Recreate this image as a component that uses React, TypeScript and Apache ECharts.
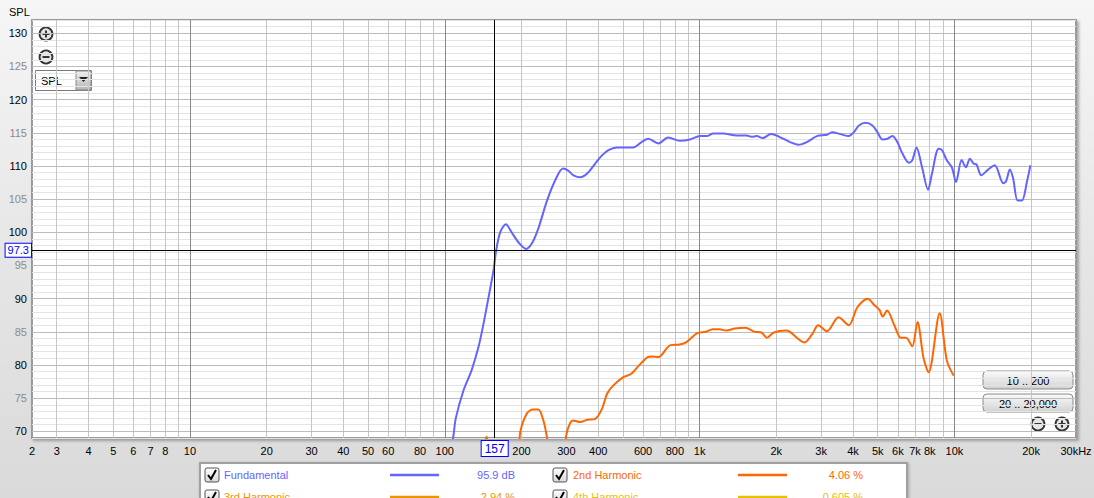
import React, { useEffect, useRef } from "react";
import * as echarts from "echarts";

// ---- data ----
const fundFreq = [104, 108, 110.5, 118.5, 127.4, 135.6, 141.9, 148.5, 155.4, 159, 165, 173.7, 183, 194.5, 208.5, 219.6, 233, 251, 271, 291, 305, 320, 340, 362, 390, 414, 439, 473, 549, 592, 629, 689, 753, 837, 917, 1004, 1066, 1131, 1238, 1396, 1530, 1600, 1677, 1770, 1904, 2134, 2264, 2442, 2636, 2886, 3161, 3310, 3570, 3850, 4030, 4220, 4485, 4765, 4985, 5220, 5460, 5710, 5970, 6245, 6630, 6830, 7100, 7465, 7880, 8165, 8670, 8930, 9335, 9770, 10150, 10670, 11090, 11500, 11900, 12200, 12750, 13550, 14400, 15540, 15950, 16500, 17000, 17700, 18400, 19300, 19860];
const fundSpl = [66, 69.2, 72, 76.2, 79.2, 82.7, 86.2, 90.2, 94.3, 97.2, 100.0, 101.2, 100.0, 98.5, 97.5, 98.3, 100.6, 104.6, 107.8, 109.6, 109.3, 108.6, 108.3, 108.85, 110.4, 111.6, 112.4, 112.8, 112.8, 113.6, 114.1, 113.4, 114.3, 113.8, 114.0, 114.5, 114.5, 114.9, 114.9, 114.6, 114.6, 114.4, 114.5, 114.2, 114.8, 114.1, 113.6, 113.2, 113.6, 114.5, 114.7, 115.1, 114.8, 114.5, 115.1, 116.1, 116.5, 116.1, 115.1, 114.0, 114.1, 114.5, 113.6, 111.9, 110.5, 110.85, 112.8, 109.8, 106.4, 108.85, 112.6, 112.4, 110.85, 109.8, 107.6, 110.9, 109.8, 111.1, 110.35, 110.25, 108.6, 109.45, 110.1, 107.4, 107.7, 109.45, 108.1, 104.8, 104.8, 107.8, 110.1];

const h2Freq = [140, 146, 152, 192, 198, 210, 222, 233, 244, 252, 258, 292, 300, 310, 319, 340, 362, 390, 414, 434, 458, 504, 536, 579, 625, 650, 689, 768, 837, 891, 979, 1058, 1126, 1196, 1272, 1375, 1510, 1650, 1750, 1835, 1955, 2180, 2264, 2410, 2580, 2770, 2920, 3160, 3510, 3850, 4160, 4570, 4860, 5080, 5230, 5440, 5810, 6170, 6460, 6830, 7160, 7570, 7920, 8750, 9335, 9920];
const h2Spl = [66, 69.2, 66, 66, 70, 72.7, 73.3, 73.3, 71.6, 69, 66, 66, 69.5, 71.2, 71.65, 71.4, 71.75, 71.9, 73.4, 75.7, 76.9, 78.2, 78.6, 79.95, 81.2, 81.3, 81.2, 83.0, 83.1, 83.5, 84.8, 85.0, 85.4, 85.4, 85.2, 85.5, 85.6, 85.0, 84.9, 84.1, 84.9, 85.2, 85.0, 84.1, 83.4, 84.7, 86.0, 85.1, 87.2, 86.0, 88.7, 90.0, 89.0, 88.3, 87.3, 88.2, 86.0, 84.1, 84.1, 82.8, 86.5, 81.0, 78.9, 87.8, 80.7, 78.4];

const yTickValues = [70, 75, 80, 85, 90, 95, 100, 105, 110, 115, 120, 125, 130];
const xTickValues = [2.4, 3, 4, 5, 6, 7, 8, 10, 20, 30, 40, 50, 60, 80, 100, 200, 300, 400, 600, 800, 1000, 2000, 3000, 4000, 5000, 6000, 7000, 8000, 10000, 20000, 30000];
const gridFreqs = [3, 4, 5, 6, 7, 8, 9, 10, 20, 30, 40, 50, 60, 70, 80, 90, 100, 200, 300, 400, 500, 600, 700, 800, 900, 1000, 2000, 3000, 4000, 5000, 6000, 7000, 8000, 9000, 10000, 20000];
const cursorFreq = 157;
const cursorSpl = 97.3;

const legendNames = ["Fundamental", "2nd Harmonic", "3rd Harmonic", "4th Harmonic"];
const legendValues = ["95.9 dB", "4.06 %", "2.94 %", "0.605 %"];
const legendColors = ["#6464ff", "#ff6600", "#eb9500", "#e6c200"];

const FONT = "'Liberation Sans', Arial, sans-serif";

function zoomIcon(cx: number, cy: number, plus: boolean): any {
  const children: any[] = [
    { type: "circle", shape: { cx, cy, r: 6.5 }, style: { fill: "#e6e6e6", stroke: "#333", lineWidth: 1.8 } },
    { type: "line", shape: { x1: cx - 3.5, y1: cy, x2: cx + 3.5, y2: cy }, style: { stroke: "#333", lineWidth: 2 } },
  ];
  if (plus) children.push({ type: "line", shape: { x1: cx, y1: cy - 3.5, x2: cx, y2: cy + 3.5 }, style: { stroke: "#333", lineWidth: 2 } });
  return { type: "group", children };
}

function button(x: number, y: number, label: string): any {
  return {
    type: "group",
    children: [
      {
        type: "rect",
        shape: { x, y, width: 90, height: 18, r: 4 },
        style: {
          fill: new echarts.graphic.LinearGradient(0, 0, 0, 1, [
            { offset: 0, color: "#fbfbfb" },
            { offset: 1, color: "#d2d2d2" },
          ]),
          stroke: "#8a8a8a",
          lineWidth: 1,
        },
      },
      { type: "text", x: x + 45, y: y + 9.5, style: { text: label, fill: "#000", font: `11px ${FONT}`, align: "center", verticalAlign: "middle" } },
    ],
  };
}

function checkbox(x: number, y: number): any {
  return {
    type: "group",
    children: [
      {
        type: "rect",
        shape: { x, y, width: 14, height: 14, r: 2 },
        style: {
          fill: new echarts.graphic.LinearGradient(0, 0, 0, 1, [
            { offset: 0, color: "#ffffff" },
            { offset: 1, color: "#d8d8d8" },
          ]),
          stroke: "#555",
          lineWidth: 1,
        },
      },
      { type: "polyline", shape: { points: [[x + 3, y + 7], [x + 6, y + 11], [x + 11, y + 2]] }, style: { stroke: "#000", lineWidth: 2, fill: null } },
    ],
  };
}

export default function App() {
  const ref = useRef<HTMLDivElement>(null);

  useEffect(() => {
    document.body.style.margin = "0";
    if (!ref.current) return;
    const chart = echarts.init(ref.current, undefined, { renderer: "svg" });

    const hMinor: any[] = [];
    const hMajor: any[] = [];
    for (let v = 69; v <= 132; v++) {
      if (v % 5 === 0) hMajor.push({ yAxis: v, lineStyle: { color: "#bcbcbc" } });
      else hMinor.push({ yAxis: v, lineStyle: { color: "#e4e4e4" } });
    }
    const isDecade = (f: number) => Math.abs(Math.log10(f) - Math.round(Math.log10(f))) < 1e-9;
    const vMinor = gridFreqs.filter((f) => !isDecade(f)).map((f) => ({ xAxis: f, lineStyle: { color: "#c6c6c6" } }));
    const vMajor = gridFreqs.filter((f) => isDecade(f)).map((f) => ({ xAxis: f, lineStyle: { color: "#8a8a8a" } }));

    const fundData = fundFreq.map((f, i) => [f, fundSpl[i]]);
    const h2Data = h2Freq.map((f, i) => [f, h2Spl[i]]);

    const graphics: any[] = [
      { type: "text", x: 9, y: 12, style: { text: "SPL", fill: "#000", font: `11px ${FONT}`, verticalAlign: "middle" } },
      zoomIcon(46, 34, true),
      zoomIcon(46, 57, false),
      {
        type: "group",
        children: [
          { type: "rect", shape: { x: 35.5, y: 70.5, width: 56, height: 20 }, style: { fill: "#fff", stroke: "#7a7a7a", lineWidth: 1 } },
          { type: "text", x: 41, y: 81, style: { text: "SPL", fill: "#000", font: `11px ${FONT}`, verticalAlign: "middle" } },
          {
            type: "rect",
            shape: { x: 76, y: 71, width: 15, height: 19 },
            style: {
              fill: new echarts.graphic.LinearGradient(0, 0, 0, 1, [
                { offset: 0, color: "#f2f2f2" },
                { offset: 1, color: "#b4b4b4" },
              ]),
              stroke: "#8a8a8a",
              lineWidth: 1,
            },
          },
          { type: "polygon", shape: { points: [[79, 77], [88, 77], [83.5, 82]] }, style: { fill: "#222" } },
        ],
      },
      button(983, 371, "10 .. 200"),
      button(983, 394, "20 .. 20,000"),
      zoomIcon(1038, 424, false),
      zoomIcon(1062, 424, true),
      // legend table
      {
        type: "rect",
        shape: { x: 200, y: 463, width: 707, height: 60 },
        style: { fill: "#fff", stroke: "#a0a0a0", lineWidth: 2, shadowColor: "rgba(0,0,0,0.25)", shadowBlur: 3, shadowOffsetX: 1, shadowOffsetY: 1 },
      },
    ];

    legendNames.forEach((name, i) => {
      const col = i % 2;
      const row = Math.floor(i / 2);
      const cy = 475 + row * 22;
      const bx = col === 0 ? 205 : 553;
      const tx = col === 0 ? 224 : 573;
      const lx = col === 0 ? 390 : 738;
      const vx = col === 0 ? 515 : 863;
      graphics.push(checkbox(bx, cy - 7));
      graphics.push({ type: "text", x: tx, y: cy, style: { text: name, fill: legendColors[i], font: `11px ${FONT}`, verticalAlign: "middle" } });
      graphics.push({ type: "line", shape: { x1: lx, y1: cy, x2: lx + 49, y2: cy }, style: { stroke: legendColors[i], lineWidth: 2.5 } });
      graphics.push({ type: "text", x: vx, y: cy, style: { text: legendValues[i], fill: legendColors[i], font: `11px ${FONT}`, align: "right", verticalAlign: "middle" } });
    });

    const option: any = {
      animation: false,
      backgroundColor: "transparent",
      grid: {
        left: 32,
        right: 18,
        top: 20,
        bottom: 60,
        containLabel: false,
        outerBoundsMode: "none",
        show: true,
        backgroundColor: "#fff",
        borderColor: "#9a9a9a",
        borderWidth: 2,
        shadowColor: "rgba(0,0,0,0.3)",
        shadowBlur: 3,
        shadowOffsetX: 2,
        shadowOffsetY: 2,
      },
      xAxis: {
        type: "log",
        logBase: 10,
        min: 2.4,
        max: 30000,
        axisLine: { show: false },
        axisTick: { show: false },
        splitLine: { show: false },
        minorSplitLine: { show: false },
        axisLabel: {
          customValues: xTickValues,
          margin: 7,
          color: "#000",
          fontSize: 11,
          fontFamily: FONT,
          showMinLabel: true,
          showMaxLabel: true,
          hideOverlap: false,
          formatter: (v: number) => {
            if (v < 2.5) return "2";
            if (v >= 29999) return "30kHz";
            if (v >= 1000) return Math.round(v / 1000) + "k";
            return String(Math.round(v));
          },
        },
      },
      yAxis: {
        type: "value",
        min: 69,
        max: 132,
        axisLine: { show: false },
        axisTick: { show: false },
        splitLine: { show: false },
        axisLabel: {
          customValues: yTickValues,
          margin: 5,
          color: "#000",
          fontSize: 11,
          fontFamily: FONT,
          formatter: (v: number) => (Math.round(v) % 10 === 0 ? String(Math.round(v)) : `{g|${Math.round(v)}}`),
          rich: { g: { color: "#8a8a8a", fontSize: 11, fontFamily: FONT } },
        },
      },
      series: [
        {
          name: "grid",
          type: "line",
          z: 1,
          silent: true,
          data: [[1000, 40]],
          showSymbol: false,
          lineStyle: { opacity: 0 },
          markLine: {
            z: 1,
            silent: true,
            symbol: ["none", "none"],
            label: { show: false },
            emphasis: { disabled: true },
            lineStyle: { type: "solid", width: 1 },
            data: [...hMinor, ...vMinor, ...hMajor, ...vMajor],
          },
        },
        {
          name: "Fundamental",
          type: "line",
          z: 10,
          data: fundData,
          smooth: 0.3,
          showSymbol: false,
          clip: true,
          lineStyle: { color: legendColors[0], width: 2 },
          itemStyle: { color: legendColors[0] },
        },
        {
          name: "2nd Harmonic",
          type: "line",
          z: 10,
          data: h2Data,
          smooth: 0.3,
          showSymbol: false,
          clip: true,
          lineStyle: { color: legendColors[1], width: 2 },
          itemStyle: { color: legendColors[1] },
        },
        {
          name: "cursor",
          type: "line",
          z: 12,
          silent: true,
          data: [[1000, 40]],
          showSymbol: false,
          lineStyle: { opacity: 0 },
          markLine: {
            z: 12,
            silent: true,
            symbol: ["none", "none"],
            emphasis: { disabled: true },
            lineStyle: { type: "solid", width: 1, color: "#000" },
            data: [
              {
                xAxis: cursorFreq,
                label: {
                  show: true,
                  position: "start",
                  formatter: String(cursorFreq),
                  color: "#0000ff",
                  backgroundColor: "#fff",
                  borderColor: "#0000ff",
                  borderWidth: 1,
                  padding: [2, 3, 1, 3],
                  fontSize: 12,
                  fontFamily: FONT,
                  distance: 3,
                },
              },
              {
                yAxis: cursorSpl,
                label: {
                  show: true,
                  position: "start",
                  formatter: String(cursorSpl),
                  color: "#0000ff",
                  backgroundColor: "#fff",
                  borderColor: "#0000ff",
                  borderWidth: 1,
                  padding: [1, 2, 1, 2],
                  fontSize: 11,
                  fontFamily: FONT,
                  distance: 1,
                },
              },
            ],
          },
        },
      ],
      graphic: graphics,
    };

    chart.setOption(option);
    return () => chart.dispose();
  }, []);

  return (
    <div
      ref={ref}
      style={{
        width: 1094,
        height: 498,
        background: "linear-gradient(#f6f6f6, #e6e6e6 50%, #dadada)",
      }}
    />
  );
}
